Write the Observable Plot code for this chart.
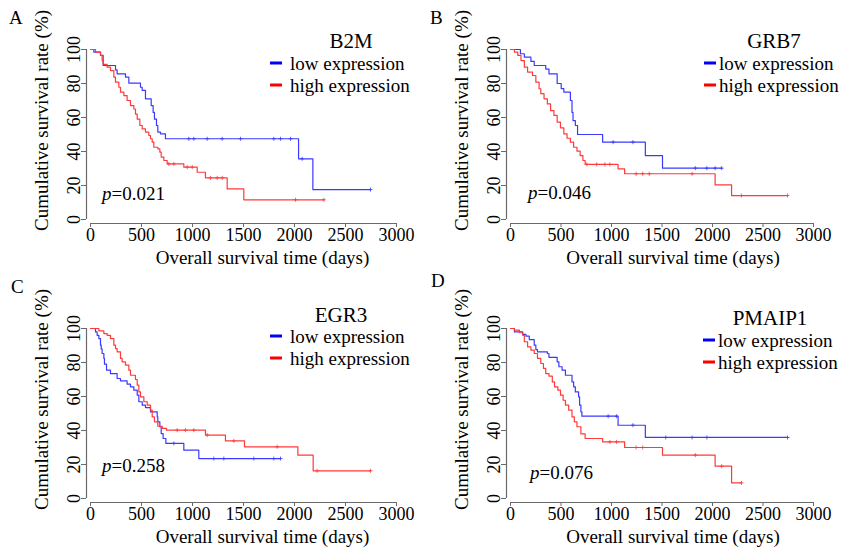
<!DOCTYPE html>
<html><head><meta charset="utf-8">
<script src="https://cdn.jsdelivr.net/npm/d3@7"></script>
<script src="https://cdn.jsdelivr.net/npm/@observablehq/plot@0.6"></script>
<style>
body{margin:0;background:#fff;font-family:"Liberation Serif","Times New Roman",serif;}
#fig{position:relative;width:841px;height:551px;overflow:hidden;background:#fff;}
.panel{position:absolute;width:420px;height:272px;}
.panel svg{position:absolute;left:0;top:0;}
.lab{position:absolute;font-size:19px;line-height:1;white-space:nowrap;color:#000;transform:translateY(-50%);}
.gene{font-size:21px;line-height:0.85;transform:translate(-50%,-50%);}
.sw{position:absolute;height:3px;transform:translateY(-50%);}
.letter{position:absolute;font-size:19px;line-height:1;transform:translateY(-50%);}
</style></head><body><div id="fig"></div>
<script>
// ---------- data ----------
const xTicks = [0, 500, 1000, 1500, 2000, 2500, 3000];
const yTicks = [0, 20, 40, 60, 80, 100];
const xLabel = "Overall survival time (days)";
const yLabel = "Cumulative survival rate (%)";
const seriesNames = ["low expression", "high expression"];
const panelLetters = ["A", "B", "C", "D"];
const genes = ["B2M", "GRB7", "EGR3", "PMAIP1"];
const pValues = ["0.021", "0.046", "0.258", "0.076"];

// B2M
const b2mLowT = [0, 33, 98, 124, 245, 261, 343, 376, 490, 507, 539, 595, 614, 627, 647, 660, 686, 735, 2040, 2180];
const b2mLowS = [100, 98.4, 96.5, 90.6, 88, 85.7, 83.7, 80.2, 77.8, 75.9, 71, 67, 63, 59, 55.3, 51.4, 50.4, 47.5, 35.7, 17.6];
const b2mLowEnd = 2745;
const b2mLowCens = [964, 1013, 1144, 1291, 1471, 1797, 1863, 1961, 2075, 2745];
const b2mHighT = [0, 49, 98, 114, 124, 163, 196, 229, 245, 278, 294, 327, 359, 392, 425, 441, 458, 484, 507, 539, 572, 588, 605, 621, 660, 680, 693, 719, 752, 915, 1046, 1127, 1340, 1503];
const b2mHighS = [100, 98.4, 96.5, 93.5, 91.2, 89.6, 87.6, 83.7, 80.8, 77.8, 74.9, 72.9, 70, 67, 65, 62, 59, 55.3, 53.3, 51.4, 49.4, 47.5, 45.5, 42.5, 41.6, 39.6, 36.7, 34.7, 32.7, 30.8, 27.8, 24.5, 18, 11.6];
const b2mHighEnd = 2288;
const b2mHighCens = [768, 817, 948, 997, 1176, 1242, 1291, 2010, 2288];

// GRB7
const grb7LowT = [0, 98, 137, 202, 235, 349, 381, 462, 502, 528, 593, 609, 619, 642, 664, 912, 1335, 1505];
const grb7LowS = [100, 97.5, 95.5, 93, 90.6, 88.5, 85.7, 80, 77, 74.9, 70, 63, 58.2, 55.3, 50, 45.5, 37.6, 30.2];
const grb7LowEnd = 2091;
const grb7LowCens = [1016, 1212, 1830, 1944, 2026, 2091];
const grb7HighT = [0, 39, 72, 104, 137, 169, 218, 251, 283, 300, 332, 365, 397, 430, 462, 495, 528, 560, 593, 625, 658, 690, 717, 739, 1065, 1130, 2026, 2189];
const grb7HighS = [100, 98.4, 96.5, 93.5, 89.6, 86.7, 84.7, 80.8, 76.9, 74, 71, 68, 64.1, 61.2, 57.3, 53.9, 50.4, 47.8, 45.5, 42.5, 40.2, 37.6, 34.7, 32.4, 29.8, 26.9, 20.4, 14.1];
const grb7HighEnd = 2743;
const grb7HighCens = [756, 853, 935, 984, 1244, 1309, 1374, 1798, 2286, 2743];

// EGR3
const egr3LowT = [0, 49, 65, 82, 98, 105, 114, 131, 137, 157, 196, 261, 294, 359, 392, 425, 458, 474, 507, 539, 588, 654, 660, 680, 693, 712, 739, 915, 1062];
const egr3LowS = [100, 98, 96, 94.1, 90.2, 88, 85.3, 82.4, 79, 75.5, 73.5, 70.6, 69.2, 67.3, 65.7, 63.7, 60.8, 56.9, 54.9, 53.5, 51, 48, 45.1, 42.2, 38.2, 35.3, 32.4, 28.4, 23.5];
const egr3LowEnd = 1863;
const egr3LowCens = [817, 1209, 1307, 1601, 1797, 1863];
const egr3HighT = [0, 82, 131, 163, 196, 229, 245, 261, 294, 310, 343, 376, 392, 441, 458, 474, 490, 523, 556, 588, 605, 627, 660, 703, 745, 1127, 1323, 1510, 2033, 2183];
const egr3HighS = [100, 98.6, 97, 96, 94.1, 90.2, 88.2, 86.3, 82.4, 80.4, 78.4, 75.5, 72.5, 70, 66.7, 62.7, 59.8, 56.9, 54.9, 52, 48, 45.1, 42.5, 41.2, 40.2, 37.3, 33.9, 30.4, 25.5, 16.3];
const egr3HighEnd = 2745;
const egr3HighCens = [850, 931, 1013, 1144, 1405, 1830, 2222, 2745];

// PMAIP1
const pmaLowT = [0, 39, 121, 153, 186, 235, 251, 267, 365, 381, 462, 479, 511, 544, 609, 625, 642, 674, 684, 697, 707, 1065, 1335];
const pmaLowS = [100, 98, 96.5, 95.5, 93.5, 90.2, 87.6, 86.3, 85.3, 83, 80.4, 77.5, 75.5, 72.5, 68.6, 65.7, 62.7, 59.8, 54.9, 51, 48.4, 43.1, 35.9];
const pmaLowEnd = 2743;
const pmaLowCens = [967, 1049, 1212, 1537, 1798, 1944, 2743];
const pmaHighT = [0, 39, 88, 121, 137, 169, 202, 235, 267, 300, 326, 349, 381, 414, 436, 469, 495, 521, 544, 576, 609, 632, 658, 697, 739, 912, 1130, 1505, 2026, 2189];
const pmaHighS = [100, 99, 97.5, 96, 92.2, 89.2, 87.3, 85.3, 82.4, 79.4, 76.5, 73.5, 72, 68.6, 65.7, 63.7, 60.8, 57.8, 54.9, 52, 48, 45.1, 42.2, 38, 35.3, 33.3, 30, 25.5, 19, 9.2];
const pmaHighEnd = 2287;
const pmaHighCens = [984, 1049, 1244, 1309, 1830, 2091, 2287];

const panelData = [
  {low: [b2mLowT, b2mLowS, b2mLowEnd, b2mLowCens], high: [b2mHighT, b2mHighS, b2mHighEnd, b2mHighCens]},
  {low: [grb7LowT, grb7LowS, grb7LowEnd, grb7LowCens], high: [grb7HighT, grb7HighS, grb7HighEnd, grb7HighCens]},
  {low: [egr3LowT, egr3LowS, egr3LowEnd, egr3LowCens], high: [egr3HighT, egr3HighS, egr3HighEnd, egr3HighCens]},
  {low: [pmaLowT, pmaLowS, pmaLowEnd, pmaLowCens], high: [pmaHighT, pmaHighS, pmaHighEnd, pmaHighCens]}
];

// ---------- layout / style ----------
const lowColor = "#3a3aff", highColor = "#ff3a3a";
const axisColor = "#6a6a6a";
const layout = [
  {left: 0,   top: 0,   mr: 24, xlabDx: 21, gx: 351, gy: 42, swx: 270, tx: 290, ly: 63, hy: 85, px: 102, py: 193, letX: 9,  letY: 17},
  {left: 420, top: 0,   mr: 27, xlabDx: 13, gx: 354, gy: 42, swx: 284, tx: 299, ly: 63, hy: 85, px: 108, py: 192, letX: 10, letY: 17},
  {left: 0,   top: 279, mr: 24, xlabDx: 21, gx: 341, gy: 37, swx: 270, tx: 290, ly: 57, hy: 79, px: 102, py: 186, letX: 11, letY: 7},
  {left: 420, top: 279, mr: 27, xlabDx: 13, gx: 350, gy: 40, swx: 283, tx: 298, ly: 61, hy: 83, px: 110, py: 193, letX: 11, letY: 1}
];

function curve(times, surv, end) {
  const pts = times.map((t, i) => ({t, s: surv[i]}));
  pts.push({t: end, s: surv[surv.length - 1]});
  return pts;
}
function survAt(times, surv, t) {
  let s = surv[0];
  for (let i = 0; i < times.length; i++) if (times[i] <= t) s = surv[i];
  return s;
}
function cens(arr) {
  const [times, surv, , c] = arr;
  return c.map(t => ({t, s: survAt(times, surv, t)}));
}

const fig = document.getElementById("fig");
panelData.forEach((pd, k) => {
  const L = layout[k];
  const div = document.createElement("div");
  div.className = "panel";
  div.style.left = L.left + "px";
  div.style.top = L.top + "px";
  const svg = Plot.plot({
    width: 420, height: 270,
    marginLeft: 86, marginRight: L.mr, marginTop: 49, marginBottom: 47,
    insetLeft: 4, insetBottom: 4,
    x: {domain: [0, 3000]},
    y: {domain: [0, 100]},
    style: {fontFamily: "'Liberation Serif', 'Times New Roman', serif", fontSize: "18px", color: "#000", background: "transparent", overflow: "visible"},
    marks: [
      Plot.ruleY([0], {x1: 0, x2: 3000, dy: 4, stroke: axisColor, strokeWidth: 1.2}),
      Plot.ruleX([0], {y1: 0, y2: 100, dx: -4, stroke: axisColor, strokeWidth: 1.2}),
      Plot.axisX(xTicks, {tickSize: 4, tickPadding: 1, tickFormat: d => String(d), stroke: axisColor, fill: "#000", label: null}),
      Plot.axisY(yTicks, {tickSize: 5, tickPadding: 2, tickRotate: -90, tickFormat: d => String(d), stroke: axisColor, fill: "#000", label: null}),
      Plot.text([xLabel], {text: d => d, frameAnchor: "bottom", lineAnchor: "middle", textAnchor: "middle", dx: L.xlabDx, dy: 34, fontSize: 19}),
      Plot.text([yLabel], {text: d => d, frameAnchor: "left", rotate: -90, textAnchor: "middle", lineAnchor: "middle", dx: -45, dy: -16, fontSize: 19}),
      Plot.line(curve(pd.low[0], pd.low[1], pd.low[2]), {x: "t", y: "s", curve: "step-after", stroke: lowColor, strokeWidth: 1.2}),
      Plot.line(curve(pd.high[0], pd.high[1], pd.high[2]), {x: "t", y: "s", curve: "step-after", stroke: highColor, strokeWidth: 1.2}),
      Plot.dot(cens(pd.low), {x: "t", y: "s", symbol: "plus", r: 1.4, stroke: lowColor, strokeWidth: 0.8}),
      Plot.dot(cens(pd.high), {x: "t", y: "s", symbol: "plus", r: 1.4, stroke: highColor, strokeWidth: 0.8})
    ]
  });
  div.appendChild(svg);
  const add = (cls, html, x, y, extra) => {
    const e = document.createElement("div");
    e.className = cls;
    e.innerHTML = html;
    e.style.left = x + "px";
    e.style.top = y + "px";
    if (extra) Object.assign(e.style, extra);
    div.appendChild(e);
  };
  add("lab gene", genes[k], L.gx, L.gy);
  add("sw", "", L.swx, L.ly, {width: "12px", background: "#0000ff"});
  add("sw", "", L.swx, L.hy, {width: "12px", background: "#ff0000"});
  add("lab", seriesNames[0], L.tx, L.ly);
  add("lab", seriesNames[1], L.tx, L.hy);
  add("lab", "<i>p</i>=" + pValues[k], L.px, L.py);
  fig.appendChild(div);
  const let_ = document.createElement("div");
  let_.className = "letter";
  let_.textContent = panelLetters[k];
  let_.style.left = (L.left + L.letX) + "px";
  let_.style.top = (L.top + L.letY) + "px";
  fig.appendChild(let_);
});
</script></body></html>
